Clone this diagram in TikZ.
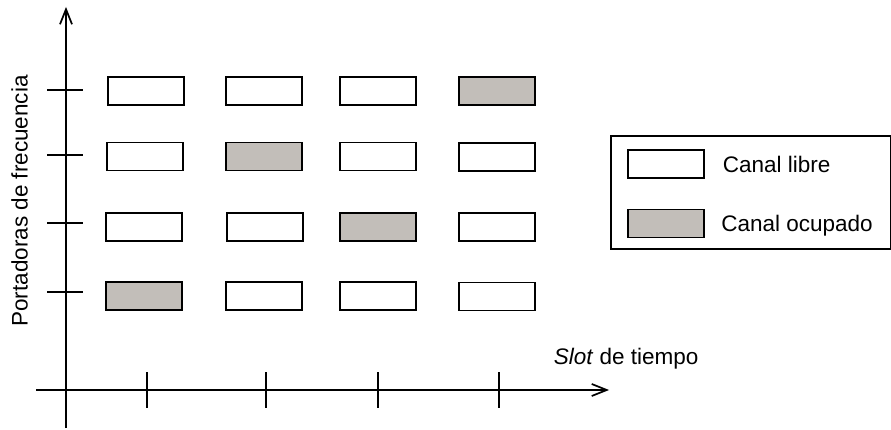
\documentclass[tikz,border=0pt]{standalone}
\usepackage{fontspec}
\setmainfont{Liberation Sans}
\usetikzlibrary{arrows.meta}
\definecolor{grisocup}{RGB}{194,190,185}

\begin{document}
\begin{tikzpicture}[x=1pt,y=-1pt,line width=1.7pt,
        canal/.style={draw,minimum width=76pt,minimum height=28pt,inner sep=0pt},
        libre/.style={canal,fill=white},
        ocupado/.style={canal,fill=grisocup},
        texto/.style={font=\fontsize{22.5}{27}\selectfont,inner sep=0pt},
        eje/.style={-{Straight Barb[length=15pt,width=12pt]}}]
        \useasboundingbox (0,0) rectangle (891,430);
        % ejes
        \coordinate (ybot) at (66,428);
        \coordinate (ytop) at (66,7);
        \coordinate (xleft) at (36,390);
        \coordinate (xright) at (609,390);
        \draw[eje] (ybot) -- (ytop);
        \draw[eje] (xleft) -- (xright);
        \draw (147,372) -- (147,408);
        \draw (266,372) -- (266,408);
        \draw (378,372) -- (378,408);
        \draw (499,372) -- (499,408);
        \draw (47,90) -- (83,90);
        \draw (47,155) -- (83,155);
        \draw (47,223) -- (83,223);
        \draw (47,292) -- (83,292);
        % canales
        \node[libre] (c11) at (146,91) {};
        \node[libre] (c12) at (264,91) {};
        \node[libre] (c13) at (378,91) {};
        \node[ocupado] (c14) at (497,91) {};
        \node[libre] (c21) at (145,156.5) {};
        \node[ocupado] (c22) at (264,156.5) {};
        \node[libre] (c23) at (378,156.5) {};
        \node[libre] (c24) at (497,157) {};
        \node[libre] (c31) at (144,227) {};
        \node[libre] (c32) at (265,227) {};
        \node[ocupado] (c33) at (378,227) {};
        \node[libre] (c34) at (497,227) {};
        \node[ocupado] (c41) at (144,296) {};
        \node[libre] (c42) at (264,296) {};
        \node[libre] (c43) at (378,296) {};
        \node[libre] (c44) at (497,296.5) {};
        % textos de los ejes
        \node[texto,rotate=90,anchor=base] (yl) at (27.5,201) {Portadoras de frecuencia};
        \node[texto,anchor=base west] (xl) at (553,364) {\textit{Slot} de tiempo};
        % leyenda
        \draw (611,136) rectangle (890.5,249);
        \node[libre] (ll) at (666,164) {};
        \node[ocupado] (lo) at (666,223.5) {};
        \node[texto,anchor=base west] (tl) at (722,173) {Canal libre};
        \node[texto,anchor=base west] (to) at (720.5,232) {Canal ocupado};
\end{tikzpicture}
\end{document}
